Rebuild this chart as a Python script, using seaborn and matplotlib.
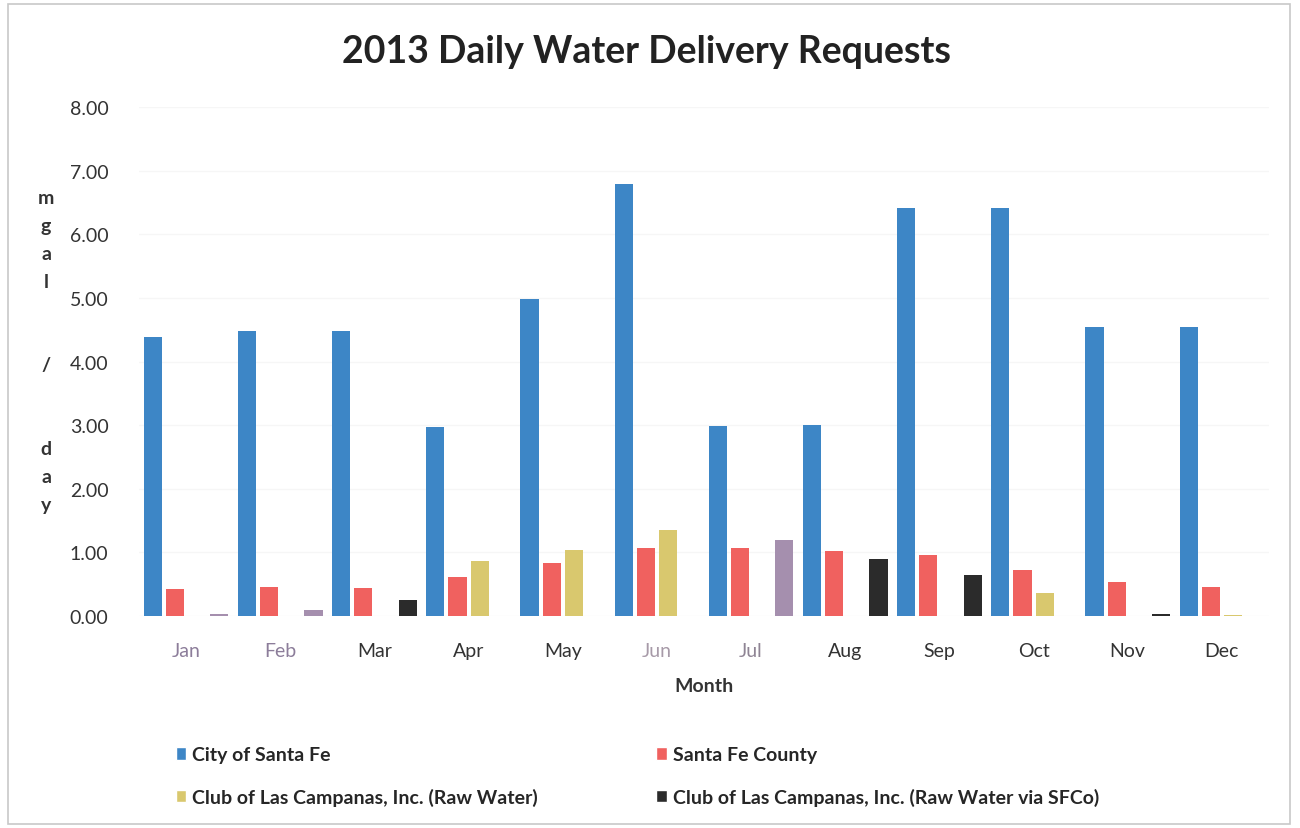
import numpy as np
import pandas as pd
import matplotlib
matplotlib.use("Agg")
import matplotlib.pyplot as plt
from matplotlib.patches import Patch, Rectangle
import seaborn as sns

# Monthly delivery requests, million gallons per day
months = ["Jan", "Feb", "Mar", "Apr", "May", "Jun",
          "Jul", "Aug", "Sep", "Oct", "Nov", "Dec"]
series_names = ["City of Santa Fe",
                "Santa Fe County",
                "Club of Las Campanas, Inc. (Raw Water)",
                "Club of Las Campanas, Inc. (Raw Water via SFCo)"]
city_sf = [4.38, 4.48, 4.48, 2.97, 4.98, 6.79, 2.99, 3.00, 6.41, 6.41, 4.54, 4.54]
sf_county = [0.43, 0.45, 0.44, 0.61, 0.83, 1.07, 1.07, 1.02, 0.96, 0.72, 0.53, 0.46]
clc_raw = [0.0, 0.0, 0.0, 0.87, 1.03, 1.35, 0.0, 0.0, 0.0, 0.36, 0.0, 0.02]
clc_sfco = [0.03, 0.10, 0.25, 0.0, 0.0, 0.0, 1.19, 0.90, 0.65, 0.0, 0.03, 0.0]
y_ticks = [0, 1, 2, 3, 4, 5, 6, 7, 8]

colors = ["#3d86c6", "#f0615f", "#d9c86e", "#2b2b2b"]
purple = "#a58fae"
purple_months = ["Jan", "Feb", "Jul"]

frames = []
for name, vals in zip(series_names, [city_sf, sf_county, clc_raw, clc_sfco]):
    frames.append(pd.DataFrame({"Month": months, "Series": name, "Value": vals}))
df = pd.concat(frames, ignore_index=True)

sns.set_theme(style="white")
plt.rcParams["font.family"] = ["Lato", "DejaVu Sans"]

fig = plt.figure(figsize=(13, 8.29), dpi=100)
ax = fig.add_axes([139 / 1300, 1 - 617 / 829, 1130 / 1300, 509 / 829])

sns.barplot(data=df, x="Month", y="Value", hue="Series", order=months,
            hue_order=series_names, palette=colors, width=0.94, gap=0.18,
            saturation=1, linewidth=0, legend=False, ax=ax)

# a few of the raw-water-via-SFCo bars are shaded differently
for i, m in enumerate(months):
    if m in purple_months:
        ax.containers[3][i].set_facecolor(purple)

ax.set_ylim(0, 8)
ax.set_xlim(-0.5, len(months) - 0.5)
ax.set_yticks(y_ticks)
ax.set_yticklabels([f"{v:.2f}" for v in y_ticks], fontsize=14, color="#333333")
ax.yaxis.grid(True, color="#f6f6f6", linewidth=1)
ax.set_axisbelow(True)
for s in ax.spines.values():
    s.set_visible(False)
ax.tick_params(axis="y", length=0, pad=22)
ax.tick_params(axis="x", length=0, pad=19)
ax.set_xticks(range(len(months)))
ax.set_xticklabels(months, fontsize=14)
tick_colors = {"Jan": "#8c7d9a", "Feb": "#8c7d9a", "Jun": "#a79aa8", "Jul": "#8f8494"}
for lbl in ax.get_xticklabels():
    lbl.set_color(tick_colors.get(lbl.get_text(), "#333333"))
ax.set_xlabel("Month", fontsize=14, fontweight="bold", color="#333333", labelpad=13)
ax.set_ylabel("")

fig.text(646 / 1300, 1 - 52 / 829, "2013 Daily Water Delivery Requests",
         ha="center", va="center", fontsize=27, fontweight="bold", color="#222222")

fig.text(46 / 1300, 1 - 352 / 829, "\n".join(list("mgal")) + "\n\n\n/\n\n\n" + "\n".join(list("day")),
         ha="center", va="center", fontsize=14, fontweight="bold", color="#333333",
         linespacing=1.78)

handles = [Patch(facecolor=colors[0]), Patch(facecolor=colors[2]),
           Patch(facecolor=colors[1]), Patch(facecolor=colors[3])]
labels = [series_names[0], series_names[2], series_names[1], series_names[3]]
fig.legend(handles, labels, ncol=2, loc="upper left",
           bbox_to_anchor=(158 / 1300, 1 - 730 / 829), frameon=False,
           prop={"size": 14, "weight": "bold"},
           handlelength=0.55, handleheight=0.6, handletextpad=0.3,
           columnspacing=6.1, labelspacing=1.25)

fig.patches.append(Rectangle((8 / 1300, 4 / 829), 1282 / 1300, 820 / 829,
                             transform=fig.transFigure, fill=False,
                             edgecolor="#c8c8c8", linewidth=1.2))

fig.savefig("out.png", dpi=100)
